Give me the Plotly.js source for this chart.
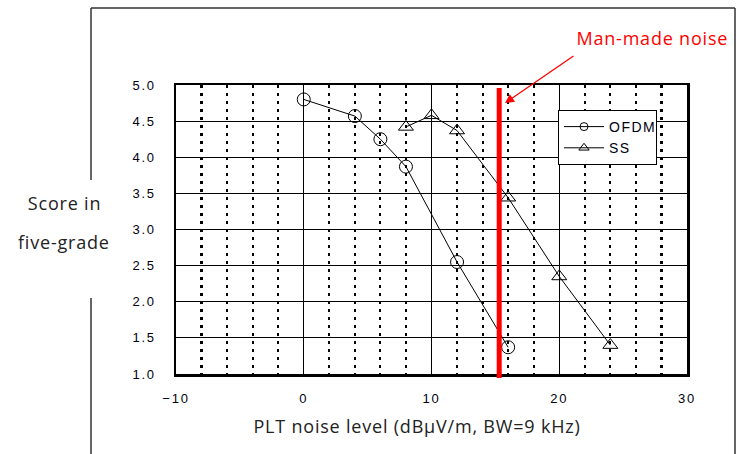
<!DOCTYPE html>
<html>
<head>
<meta charset="utf-8">
<script src="https://cdn.plot.ly/plotly-3.0.1.min.js"></script>
<style>
html,body{margin:0;padding:0;background:#fff;}
#chart{width:737px;height:454px;}
#chart .xtick text, #chart .ytick text{letter-spacing:1.8px;}
#chart .legendtext{letter-spacing:1.5px;}
#chart .annotation-text{letter-spacing:0.8px;}
</style>
</head>
<body>
<div id="chart"></div>
<script>
// ---- data ----
const seriesNames = ["OFDM", "SS"];
const ofdmX = [0, 4, 6, 8, 12, 16];
const ofdmY = [4.80, 4.57, 4.25, 3.87, 2.55, 1.37];
const ssX = [8, 10, 12, 16, 20, 24];
const ssY = [4.42, 4.58, 4.37, 3.44, 2.35, 1.40];
const manMadeNoiseLevel = 15.3;
const manMadeLabel = "Man-made noise";
const xTitle = "PLT noise level (dBμV/m, BW=9 kHz)";
const yTitleLines = ["Score in", "five-grade"];
const xRange = [-10, 30];
const yRange = [1, 5];

// ---- layout geometry ----
const W = 737, H = 454;
const M = {l: 176, r: 50, t: 85, b: 80};
const pw = W - M.l - M.r, ph = H - M.t - M.b;
const px = v => (v - M.l) / pw;
const py = v => (H - M.b - v) / ph;

const tickFont = {family: "Liberation Sans, Arial, sans-serif", size: 13, color: "#000010"};
const labelFont = {family: "Open Sans, sans-serif", size: 18, color: "#222"};

const lineStyle = {color: "#000", width: 1};
const symbols = ["circle-open", "triangle-up-open"];
const traces = [
  {x: ofdmX, y: ofdmY, name: seriesNames[0], mode: "lines+markers", type: "scatter", showlegend: false,
   line: lineStyle, marker: {symbol: symbols[0], size: 13, color: "#000", line: {width: 1, color: "#000"}}},
  {x: ssX, y: ssY, name: seriesNames[1], mode: "lines+markers", type: "scatter", showlegend: false,
   line: lineStyle, marker: {symbol: symbols[1], size: 13, color: "#000", line: {width: 1, color: "#000"}}},
  // legend entries (smaller markers, as in the reference legend)
  {x: [null], y: [null], name: seriesNames[0], mode: "lines+markers", type: "scatter",
   line: lineStyle, marker: {symbol: symbols[0], size: 8, color: "#000", line: {width: 1, color: "#000"}}},
  {x: [null], y: [null], name: seriesNames[1], mode: "lines+markers", type: "scatter",
   line: lineStyle, marker: {symbol: symbols[1], size: 9, color: "#000", line: {width: 1, color: "#000"}}}
];

const frame = {color: "#333", width: 1.5};
const layout = {
  width: W, height: H,
  margin: M,
  paper_bgcolor: "#fff", plot_bgcolor: "#fff",
  showlegend: true,
  legend: {x: px(558), y: py(110), xanchor: "left", yanchor: "top",
           bgcolor: "#fff", bordercolor: "#000", borderwidth: 1,
           itemwidth: 40,
           font: {family: "Liberation Sans, Arial, sans-serif", size: 14, color: "#000010"},
           tracegroupgap: 0},
  xaxis: {range: xRange, tick0: 0, dtick: 10, showgrid: true, gridcolor: "#000", gridwidth: 1,
          minor: {dtick: 2, tick0: 0, showgrid: true, gridcolor: "#000", gridwidth: 2.2, griddash: "3px,5px"},
          zeroline: false, showline: true, mirror: true, linecolor: "#000", linewidth: 2.5,
          ticks: "", ticklabelstandoff: 11, tickfont: tickFont, fixedrange: true},
  yaxis: {range: yRange, tick0: 1, dtick: 0.5, tickformat: ".1f", showgrid: true, gridcolor: "#000", gridwidth: 1,
          zeroline: false, showline: true, mirror: true, linecolor: "#000", linewidth: 2.5,
          ticks: "", ticklabelstandoff: 15, tickfont: tickFont, fixedrange: true},
  shapes: [
    // red man-made noise line
    {type: "line", xref: "x", yref: "paper", x0: manMadeNoiseLevel, x1: manMadeNoiseLevel,
     y0: py(378), y1: py(88), line: {color: "#ff0000", width: 5}, layer: "above"},
    // outer frame
    {type: "line", xref: "paper", yref: "paper", x0: px(91), x1: px(735), y0: py(8), y1: py(8), line: frame},
    {type: "line", xref: "paper", yref: "paper", x0: px(735), x1: px(735), y0: py(8), y1: py(454), line: frame},
    {type: "line", xref: "paper", yref: "paper", x0: px(91), x1: px(91), y0: py(8), y1: py(180), line: frame},
    {type: "line", xref: "paper", yref: "paper", x0: px(91), x1: px(91), y0: py(298), y1: py(454), line: frame}
  ],
  annotations: [
    {xref: "paper", yref: "paper", x: px(417), y: py(426), text: xTitle, showarrow: false,
     xanchor: "center", yanchor: "middle", font: labelFont},
    {xref: "paper", yref: "paper", x: px(64), y: py(203), text: yTitleLines[0], showarrow: false,
     xanchor: "center", yanchor: "middle", font: labelFont},
    {xref: "paper", yref: "paper", x: px(64), y: py(242), text: yTitleLines[1], showarrow: false,
     xanchor: "center", yanchor: "middle", font: labelFont},
    {xref: "paper", yref: "paper", x: px(652), y: py(38), text: manMadeLabel, showarrow: false,
     xanchor: "center", yanchor: "middle", font: {family: "Open Sans, sans-serif", size: 18, color: "#ff0000"}},
    {xref: "x", yref: "y", x: 15.75, y: 4.75, ax: 70, ay: -48, text: "", showarrow: true,
     arrowcolor: "#ff0000", arrowwidth: 1.3, arrowhead: 2, arrowsize: 1.4, standoff: 0}
  ]
};

Plotly.newPlot("chart", traces, layout, {displayModeBar: false, staticPlot: true});
</script>
</body>
</html>
